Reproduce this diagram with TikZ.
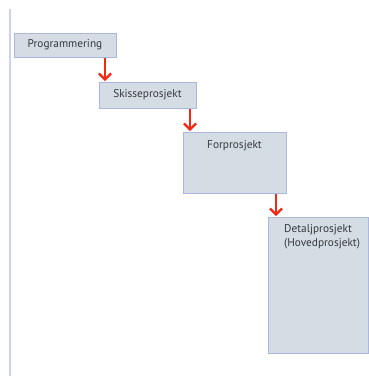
\documentclass[tikz,border=0pt]{standalone}
\usepackage{fontspec}
\setmainfont{PT Sans}
\usetikzlibrary{arrows.meta}
\definecolor{boxfill}{RGB}{212,221,227}
\definecolor{boxline}{RGB}{172,182,222}
\definecolor{leftline}{RGB}{205,210,236}
\definecolor{txt}{RGB}{55,57,62}
\definecolor{arr}{RGB}{240,40,20}
\tikzset{
  phase/.style={draw=boxline, fill=boxfill, line width=0.8pt, inner sep=0pt, outer sep=0pt},
  lbl/.style={text=txt, font=\fontsize{11.3}{14}\selectfont, inner sep=0pt},
  flow/.style={draw=arr, line width=2.3pt, -{Straight Barb[length=6pt,width=12pt,line width=2.3pt]}}
}
\begin{document}
\begin{tikzpicture}[x=1pt,y=1pt]
\useasboundingbox (0,0) rectangle (369,-376);
\draw[leftline, line width=1.2pt] (10,-9) -- (10,-376);
% boxes
\node[phase, minimum width=102pt, minimum height=24pt, anchor=north west] (box1) at (14,-33) {};
\node[lbl] (p1) at (box1.center) {Programmering};
\node[phase, minimum width=97pt, minimum height=26pt, anchor=north west] (box2) at (99,-82) {};
\node[lbl] (p2) at (box2.center) {Skisseprosjekt};
\node[phase, minimum width=103pt, minimum height=61pt, anchor=north west] (box3) at (183,-132) {};
\node[lbl, anchor=north] (p3) at ([yshift=-8pt]box3.north) {Forprosjekt};
\node[phase, minimum width=100pt, minimum height=136pt, anchor=north west] (box4) at (268,-217) {};
\node[lbl, anchor=north west, align=left] (p4) at ([xshift=16pt,yshift=-7pt]box4.north west) {Detaljprosjekt\\(Hovedprosjekt)};
% connectors
\coordinate (c1) at (105,0);
\coordinate (c2) at (190,0);
\coordinate (c3) at (276,0);
\draw[flow] ([yshift=-1pt]box1.south -| c1) -- ([yshift=1pt]box2.north -| c1);
\draw[flow] ([yshift=-1pt]box2.south -| c2) -- ([yshift=1pt]box3.north -| c2);
\draw[flow] ([yshift=-1pt]box3.south -| c3) -- ([yshift=1pt]box4.north -| c3);
\end{tikzpicture}
\end{document}
